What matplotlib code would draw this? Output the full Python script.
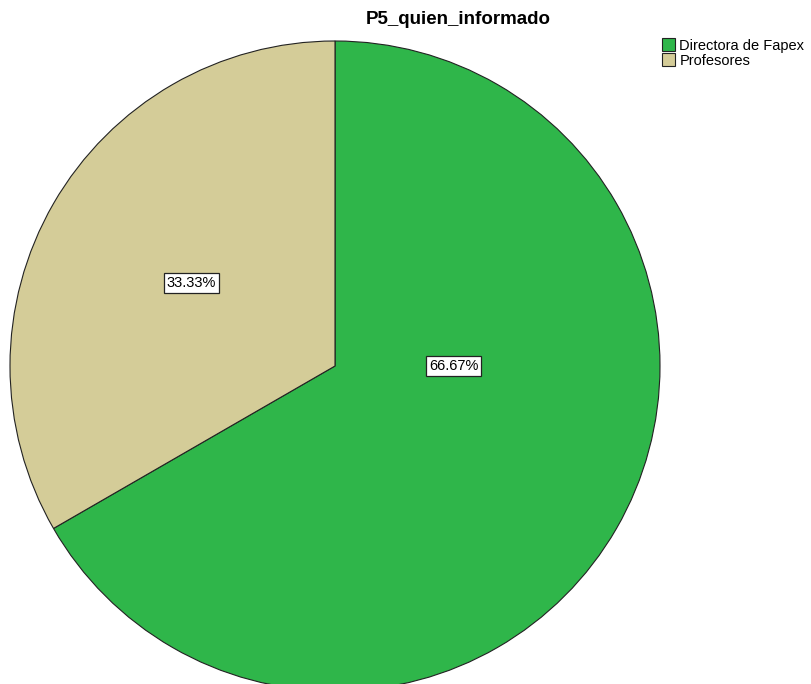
import matplotlib.pyplot as plt
from matplotlib.patches import Patch

plt.rcParams['font.family'] = ['Liberation Sans', 'DejaVu Sans']

categories = ['Directora de Fapex', 'Profesores']
values = [66.67, 33.33]
colors = ['#2fb64a', '#d4cc98']

fig = plt.figure(figsize=(8.12, 6.84), dpi=100)
ax = fig.add_axes([10 / 812, -7 / 684, 650 / 812, 650 / 684])

wedges, texts, autotexts = ax.pie(values, colors=colors, startangle=90, counterclock=False,
                                  autopct='%.2f%%', pctdistance=0.51,
                                  wedgeprops=dict(edgecolor='#222222', linewidth=0.8),
                                  textprops=dict(fontsize=10.5))
for t in autotexts:
    t.set_bbox(dict(facecolor='white', edgecolor='#222222', linewidth=0.9, pad=2))
# SPSS places the big slice label near the centre
autotexts[0].set_position((0.366, 0.0))
ax.set_xlim(-1, 1)
ax.set_ylim(-1, 1)

fig.text(458 / 812, 1 - 20 / 684, 'P5_quien_informado', ha='center', va='center',
         fontsize=13.5, fontweight='bold')

handles = [Patch(facecolor=c, edgecolor='#222222', linewidth=0.8) for c in colors]
fig.legend(handles, categories, loc='upper left', bbox_to_anchor=(662 / 812, 1 - 38 / 684),
           frameon=False, fontsize=10.5, handlelength=0.9, handleheight=1.0,
           handletextpad=0.3, labelspacing=0.05, borderpad=0, borderaxespad=0)

fig.savefig('out.png', dpi=100)
